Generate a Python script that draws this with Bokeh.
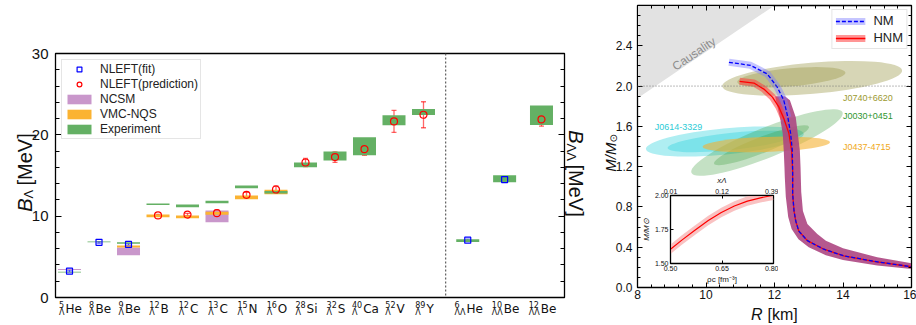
import math
from bokeh.plotting import figure
from bokeh.models import (Range1d, LinearAxis, SingleIntervalTicker, FixedTicker,
                          PrintfTickFormatter, CustomJSTickFormatter, ColumnDataSource, Whisker,
                          TeeHead, Span, Label, LabelSet, Legend, LegendItem)
from bokeh.core.properties import value
from bokeh.embed import file_html
from bokeh.resources import INLINE

# ------------------------------------------------------------------ left panel data
nuclei = ["5He", "8Be", "9Be", "12B", "12C", "13C", "15N", "16O", "28Si", "32S", "40Ca", "52V", "89Y",
          "LL6He", "LL10Be", "LL12Be"]
nuc_mass = ["5", "8", "9", "12", "12", "13", "15", "16", "28", "32", "40", "52", "89", "6", "10", "12"]
nuc_elem = ["He", "Be", "Be", "B", "C", "C", "N", "O", "Si", "S", "Ca", "V", "Y", "He", "Be", "Be"]
nuc_lam = ["Λ"] * 13 + ["ΛΛ"] * 3

exp_val = [3.12, 6.84, 6.70, 11.46, 11.27, 11.75, 13.60, 12.95, 16.30, 17.40, 18.60, 21.80, 22.80,
           7.00, 14.60, 22.40]
exp_err = [0.06, 0.06, 0.08, 0.10, 0.17, 0.15, 0.16, 0.15, 0.30, 0.55, 1.10, 0.62, 0.37,
           0.17, 0.43, 1.20]

ncsm_nuc = ["5He", "9Be", "13C"]
ncsm_val = [3.44, 5.68, 9.98]
ncsm_err = [0.06, 0.47, 0.72]

vmc_nuc = ["9Be", "12B", "12C", "13C", "15N", "16O"]
vmc_val = [6.27, 10.05, 9.92, 10.35, 12.32, 12.97]
vmc_err = [0.12, 0.17, 0.17, 0.18, 0.23, 0.27]

fit_nuc = ["5He", "8Be", "9Be", "LL6He", "LL10Be"]
fit_val = [3.24, 6.78, 6.52, 7.05, 14.50]
fit_err = [0.12, 0.10, 0.10, 0.12, 0.15]

pred_nuc = ["12B", "12C", "13C", "15N", "16O", "28Si", "32S", "40Ca", "52V", "89Y", "LL12Be"]
pred_val = [10.09, 10.20, 10.37, 12.63, 13.28, 16.60, 17.26, 18.24, 21.65, 22.47, 21.90]
pred_err = [0.12, 0.15, 0.40, 0.30, 0.45, 0.50, 0.65, 0.75, 1.35, 1.60, 0.83]

# ------------------------------------------------------------------ right panel data
nm_R = [10.67, 11.30, 11.79, 12.08, 12.27, 12.39, 12.47, 12.52, 12.53, 12.53, 12.57, 12.62, 12.71,
        12.96, 13.44, 14.02, 14.90, 16.00]
nm_M = [2.236, 2.206, 2.120, 1.990, 1.860, 1.690, 1.530, 1.360, 1.160, 0.930, 0.760, 0.660, 0.560,
        0.465, 0.380, 0.315, 0.260, 0.206]
hnm_R = [10.98, 11.40, 11.69, 11.94, 12.13, 12.27, 12.42, 12.50, 12.53, 12.53, 12.57, 12.62, 12.71,
         12.96, 13.44, 14.02, 14.90, 16.00]
hnm_M = [2.047, 2.030, 1.970, 1.890, 1.790, 1.680, 1.530, 1.360, 1.160, 0.930, 0.760, 0.660, 0.560,
         0.465, 0.380, 0.315, 0.260, 0.206]
band_top_points = 6

# overlap band (outer edge from top to tail, then inner edge back)
band_out_R = [12.30, 12.45, 12.62, 12.68, 12.74, 12.76, 12.78, 12.83, 12.96, 13.25, 13.50, 14.00, 15.00, 16.00]
band_out_M = [1.90, 1.86, 1.69, 1.53, 1.36, 1.20, 0.95, 0.76, 0.63, 0.53, 0.465, 0.39, 0.30, 0.24]
band_in_R = [16.00, 15.00, 14.00, 13.50, 13.00, 12.70, 12.50, 12.40, 12.33, 12.30, 12.29, 12.27, 12.24, 12.16, 12.04, 12.02]
band_in_M = [0.183, 0.218, 0.272, 0.320, 0.400, 0.480, 0.580, 0.700, 0.900, 1.100, 1.200, 1.360, 1.530, 1.690, 1.860, 1.900]

caus_R = [8.0, 12.0, 8.0]
caus_M = [2.8, 2.8, 1.88]

# pulsar credible regions: centre R, centre M, extent along R [km], extent in M, tilt [deg]
psr_names = ["J0614-3329", "J0030+0451", "J0437-4715", "J0740+6620"]
psr_colors = ["#22d0da", "#3a9a3a", "#f5b031", "#9c9848"]
psr_text_colors = ["#2ccbd6", "#2f962f", "#f0a820", "#9c9a30"]
psr_alpha = [0.36, 0.30, 0.60, 0.40]
outer_R = [10.55, 11.78, 11.76, 13.10]
outer_M = [1.450, 1.440, 1.420, 2.077]
outer_w = [4.63, 4.75, 3.72, 5.27]
outer_h = [0.26, 0.30, 0.15, 0.31]
outer_a = [5.5, 21.8, 2.0, 5.0]
inner_R = [10.72, 11.62, 11.76, 12.49]
inner_M = [1.450, 1.413, 1.420, 2.087]
inner_w = [3.70, 2.97, 0.0, 3.17]
inner_h = [0.17, 0.16, 0.0, 0.18]
inner_a = [6.0, 21.4, 0.0, 5.0]
psr_lab_R = [8.50, 14.00, 14.00, 14.00]
psr_lab_M = [1.595, 1.700, 1.395, 1.880]

inset_rho = [0.50, 0.533, 0.571, 0.61, 0.648, 0.686, 0.724, 0.762, 0.80]
inset_M = [1.605, 1.672, 1.744, 1.816, 1.875, 1.923, 1.959, 1.983, 2.002]
inset_band = 0.035
inset_xticks = [0.50, 0.65, 0.80]
inset_xlam = ["0.01", "0.12", "0.39"]
inset_yticks = [1.50, 1.75, 2.00]

GREEN = "#64b064"
ORANGE = "#fbb332"
PURPLE = "#c997cb"
SANS = "Liberation Sans"
INK = "#111111"


def place(fig, left, top):
    fig.styles = {"position": "absolute", "left": f"{left}px", "top": f"{top}px"}


def style_inward(ax, font_size, major=6, minor=4):
    ax.major_tick_in = major
    ax.major_tick_out = 0
    ax.minor_tick_in = minor
    ax.minor_tick_out = 0
    ax.axis_line_color = "black"
    ax.major_tick_line_color = "black"
    ax.minor_tick_line_color = "black"
    ax.major_label_text_font = SANS
    ax.major_label_text_font_size = font_size
    ax.major_label_text_color = INK


def bare_axis(ticker, major=6, minor=4):
    ax = LinearAxis(ticker=ticker, formatter=CustomJSTickFormatter(code="return ''"))
    style_inward(ax, "1px", major, minor)
    ax.major_label_standoff = 0
    return ax


def overlay(W, H, L, R, T, B, xr, yr):
    """transparent text layer covering a whole panel, sharing the panel's data scale"""
    sx = (xr.end - xr.start) / (W - L - R)
    sy = (yr.end - yr.start) / (H - T - B)
    ov = figure(width=W, height=H, title=None,
                x_range=Range1d(xr.start - L * sx, xr.end + R * sx),
                y_range=Range1d(yr.start - B * sy, yr.end + T * sy),
                x_axis_location=None, y_axis_location=None, min_border=0,
                output_backend="svg", toolbar_location=None)
    ov.grid.visible = False
    ov.outline_line_color = None
    ov.background_fill_alpha = 0
    ov.border_fill_alpha = 0
    return ov


# ================================================================== left figure
W1, H1, L1, R1, T1, B1 = 600, 325, 55, 36, 53, 28
n_single = 13
pos = {}
for i, k in enumerate(nuclei):
    pos[k] = i if i < n_single else n_single + 0.5 + 1.25 * (i - n_single)

xr1 = Range1d(-0.475, 16.78)
yr1 = Range1d(0, 30)
p1 = figure(width=W1, height=H1, x_range=xr1, y_range=yr1, title=None,
            output_backend="svg", toolbar_location=None,
            min_border_left=L1, min_border_right=R1, min_border_top=T1, min_border_bottom=B1)
place(p1, 0, 0)
p1.grid.visible = False
p1.xaxis.visible = False
p1.outline_line_color = "black"
p1.outline_line_width = 1.3

yax = p1.yaxis[0]
yax.ticker = SingleIntervalTicker(interval=10, num_minor_ticks=5)
style_inward(yax, "15px")
yax.major_label_standoff = 7
p1.add_layout(bare_axis(SingleIntervalTicker(interval=10, num_minor_ticks=5)), "right")


def box_src(keys, vals, errs, half=0.39):
    xs = [pos[k] for k in keys]
    return ColumnDataSource(dict(left=[x - half for x in xs], right=[x + half for x in xs],
                                 bottom=[v - e for v, e in zip(vals, errs)],
                                 top=[v + e for v, e in zip(vals, errs)]))


r_ncsm = p1.quad(left="left", right="right", bottom="bottom", top="top",
                 source=box_src(ncsm_nuc, ncsm_val, ncsm_err), fill_color=PURPLE, line_color=None)
r_vmc = p1.quad(left="left", right="right", bottom="bottom", top="top",
                source=box_src(vmc_nuc, vmc_val, vmc_err), fill_color=ORANGE, line_color=None)
r_exp = p1.quad(left="left", right="right", bottom="bottom", top="top",
                source=box_src(nuclei, exp_val, exp_err), fill_color=GREEN, line_color=None)


def point_src(keys, vals, errs):
    return ColumnDataSource(dict(x=[pos[k] for k in keys], y=vals,
                                 lo=[v - e for v, e in zip(vals, errs)],
                                 hi=[v + e for v, e in zip(vals, errs)]))


fit_src = point_src(fit_nuc, fit_val, fit_err)
pred_src = point_src(pred_nuc, pred_val, pred_err)
for src, col in ((fit_src, "blue"), (pred_src, "red")):
    p1.add_layout(Whisker(base="x", lower="lo", upper="hi", source=src, line_color=col,
                          line_alpha=0.6, line_width=1.3,
                          upper_head=TeeHead(size=5, line_color=col, line_alpha=0.6, line_width=1.3),
                          lower_head=TeeHead(size=5, line_color=col, line_alpha=0.6, line_width=1.3)))
r_fit = p1.scatter("x", "y", source=fit_src, marker="square", size=6, line_color="blue",
                   fill_alpha=0, line_width=1.2)
r_pred = p1.scatter("x", "y", source=pred_src, marker="circle", size=7, line_color="red",
                    fill_alpha=0, line_width=1.2)

p1.add_layout(Span(location=(n_single - 1 + n_single + 0.5) / 2, dimension="height",
                   line_color="#666666", line_dash="2 2", line_width=1.3))

leg1 = Legend(items=[LegendItem(label="NLEFT(fit)", renderers=[r_fit]),
                     LegendItem(label="NLEFT(prediction)", renderers=[r_pred]),
                     LegendItem(label="NCSM", renderers=[r_ncsm]),
                     LegendItem(label="VMC-NQS", renderers=[r_vmc]),
                     LegendItem(label="Experiment", renderers=[r_exp])],
              location="top_left", margin=6, padding=2, spacing=1, glyph_width=30, glyph_height=12,
              label_height=14, label_standoff=6, label_text_font=SANS, label_text_font_size="12px",
              label_text_color="#222222", border_line_color="#cccccc", border_line_width=1,
              background_fill_alpha=0.9)
p1.add_layout(leg1)

# ---- text layer for the left panel (category labels and axis titles)
ov1 = overlay(W1, H1, L1, R1, T1, B1, xr1, yr1)
place(ov1, 0, 0)
adv = {"H": .752, "e": .615, "B": .686, "C": .698, "N": .748, "O": .787, "S": .635, "i": .278,
       "a": .613, "V": .684, "Y": .611}
xo_pre, xo_el = [], []
for m, e, l in zip(nuc_mass, nuc_elem, nuc_lam):
    wpre = max(len(m) * 0.636 * 8, len(l) * 0.684 * 8)
    wel = sum(adv[c] for c in e) * 12
    W = wpre + 1 + wel
    xo_pre.append(-W / 2 + 1)
    xo_el.append(-W / 2 + wpre + 2)
tick_src = ColumnDataSource(dict(x=[pos[k] for k in nuclei], y=[0] * len(nuclei), mass=nuc_mass,
                                 lam=nuc_lam, elem=nuc_elem, xp=xo_pre, xe=xo_el))
ov1.add_layout(LabelSet(x="x", y="y", text="elem", source=tick_src, x_offset="xe", y_offset=-15,
                        text_font=value("DejaVu Sans"), text_font_size="12px", text_align="left",
                        text_baseline="alphabetic", text_color=INK))
ov1.add_layout(LabelSet(x="x", y="y", text="mass", source=tick_src, x_offset="xp", y_offset=-10,
                        text_font=value("DejaVu Sans"), text_font_size="8px", text_align="left",
                        text_baseline="alphabetic", text_color=INK))
ov1.add_layout(LabelSet(x="x", y="y", text="lam", source=tick_src, x_offset="xp", y_offset=-17,
                        text_font=value("DejaVu Sans"), text_font_size="8px", text_align="left",
                        text_baseline="alphabetic", text_color=INK))

ymid = 15
x0, x1 = xr1.start, xr1.end
ov1.add_layout(Label(x=x0, y=ymid, x_offset=-31, y_offset=-23, text="B", angle=math.pi / 2,
                     text_align="right", text_baseline="alphabetic", text_font=SANS,
                     text_font_size="20px", text_font_style="italic", text_color=INK))
ov1.add_layout(Label(x=x0, y=ymid, x_offset=-27, y_offset=-23, text="Λ", angle=math.pi / 2,
                     text_align="left", text_baseline="alphabetic", text_font=SANS,
                     text_font_size="13px", text_color=INK))
ov1.add_layout(Label(x=x0, y=ymid, x_offset=-31, y_offset=-10, text="[MeV]", angle=math.pi / 2,
                     text_align="left", text_baseline="alphabetic", text_font=SANS,
                     text_font_size="20px", text_color=INK))
ov1.add_layout(Label(x=x1, y=ymid, x_offset=11, y_offset=32, text="B", angle=-math.pi / 2,
                     text_align="right", text_baseline="alphabetic", text_font=SANS,
                     text_font_size="20px", text_font_style="italic", text_color=INK))
ov1.add_layout(Label(x=x1, y=ymid, x_offset=7, y_offset=32, text="ΛΛ", angle=-math.pi / 2,
                     text_align="left", text_baseline="alphabetic", text_font=SANS,
                     text_font_size="13px", text_color=INK))
ov1.add_layout(Label(x=x1, y=ymid, x_offset=11, y_offset=11, text="[MeV]", angle=-math.pi / 2,
                     text_align="left", text_baseline="alphabetic", text_font=SANS,
                     text_font_size="20px", text_color=INK))

# ================================================================== right figure
W2, H2, L2, R2, T2, B2 = 316, 325, 37, 5, 5, 38
xr2 = Range1d(8, 16)
yr2 = Range1d(0, 2.8)
p2 = figure(width=W2, height=H2, x_range=xr2, y_range=yr2, title=None,
            output_backend="svg", toolbar_location=None,
            min_border_left=L2, min_border_right=R2, min_border_top=T2, min_border_bottom=B2)
place(p2, 600, 0)
p2.grid.visible = False
p2.outline_line_color = "black"
p2.outline_line_width = 1.3

p2.xaxis.ticker = SingleIntervalTicker(interval=2, num_minor_ticks=5)
p2.yaxis.ticker = SingleIntervalTicker(interval=0.4, num_minor_ticks=4)
style_inward(p2.xaxis[0], "12px", 5, 3)
style_inward(p2.yaxis[0], "12px", 5, 3)
p2.xaxis.major_label_standoff = 2
p2.yaxis.major_label_standoff = 5
p2.yaxis.formatter = PrintfTickFormatter(format="%.1f")
p2.xaxis.formatter = PrintfTickFormatter(format="%d")
p2.add_layout(bare_axis(SingleIntervalTicker(interval=2, num_minor_ticks=5), 5, 3), "above")
p2.add_layout(bare_axis(SingleIntervalTicker(interval=0.4, num_minor_ticks=4), 5, 3), "right")

p2.patch(caus_R, caus_M, fill_color="#e2e2e2", line_color=None)
p2.add_layout(Label(x=9.65, y=2.32, text="Causality", angle=34, angle_units="deg",
                    text_align="center", text_baseline="middle", text_color="#8c8c8c",
                    text_font=SANS, text_font_size="12px"))
p2.add_layout(Span(location=2.0, dimension="width", line_color="#777777", line_dash="1 2", line_width=1))

for i in range(len(psr_names)):
    p2.ellipse(x=[outer_R[i]], y=[outer_M[i]], width=[outer_w[i]], height=[outer_h[i]],
               angle=[outer_a[i]], angle_units="deg", fill_color=psr_colors[i],
               fill_alpha=psr_alpha[i], line_color=None)
    if inner_w[i] > 0:
        p2.ellipse(x=[inner_R[i]], y=[inner_M[i]], width=[inner_w[i]], height=[inner_h[i]],
                   angle=[inner_a[i]], angle_units="deg", fill_color=psr_colors[i],
                   fill_alpha=psr_alpha[i], line_color=None)
    p2.add_layout(Label(x=psr_lab_R[i], y=psr_lab_M[i], text=psr_names[i], text_color=psr_text_colors[i],
                        text_font=SANS, text_font_size="9px", text_align="left",
                        text_baseline="alphabetic"))

p2.patch(band_out_R + band_in_R, band_out_M + band_in_M, fill_color="#ad4682", fill_alpha=0.9,
         line_color=None)
r_nm_band = p2.line(nm_R[:band_top_points], nm_M[:band_top_points], line_width=7,
                    line_color="#7f7fff", line_alpha=0.45)
r_hnm_band = p2.line(hnm_R[:band_top_points], hnm_M[:band_top_points], line_width=7,
                     line_color="#ff4040", line_alpha=0.55)
r_hnm = p2.line(hnm_R, hnm_M, line_color="red", line_width=1.3)
r_nm = p2.line(nm_R, nm_M, line_color="blue", line_width=1.3, line_dash="4 2")

leg2 = Legend(items=[LegendItem(label="NM", renderers=[r_nm_band, r_nm]),
                     LegendItem(label="HNM", renderers=[r_hnm_band, r_hnm])],
              location="top_right", margin=4, padding=3, spacing=2, glyph_width=30, glyph_height=12,
              label_height=14, label_standoff=8, label_text_font=SANS, label_text_font_size="13px",
              label_text_color="#222222", border_line_color="#cccccc", border_line_width=1,
              background_fill_alpha=0.9)
p2.add_layout(leg2)

# ---- text layer for the right panel (axis titles)
ov2 = overlay(W2, H2, L2, R2, T2, B2, xr2, yr2)
place(ov2, 600, 0)
ov2.add_layout(Label(x=12, y=0, x_offset=-12, y_offset=-27, text="R", text_align="right",
                     text_baseline="alphabetic", text_font=SANS, text_font_size="16px",
                     text_font_style="italic", text_color=INK))
ov2.add_layout(Label(x=12, y=0, x_offset=-7, y_offset=-27, text="[km]", text_align="left",
                     text_baseline="alphabetic", text_font=SANS, text_font_size="16px",
                     text_color=INK))
ov2.add_layout(Label(x=8, y=1.4, x_offset=-27, y_offset=4, text="M/M", angle=math.pi / 2,
                     text_align="right", text_baseline="alphabetic", text_font=SANS,
                     text_font_size="15px", text_font_style="italic", text_color=INK))
ov2.add_layout(Label(x=8, y=1.4, x_offset=-24, y_offset=4, text="⊙", angle=math.pi / 2,
                     text_align="left", text_baseline="alphabetic", text_font="DejaVu Sans",
                     text_font_size="10px", text_color=INK))

# ================================================================== inset figure
p3 = figure(width=140, height=114, x_range=Range1d(0.5, 0.8), y_range=Range1d(1.5, 2.0), title=None,
            output_backend="svg", toolbar_location=None,
            min_border_left=30, min_border_right=5, min_border_top=22, min_border_bottom=22)
place(p3, 638, 172)
p3.grid.visible = False
p3.border_fill_alpha = 0
p3.background_fill_color = "white"
p3.outline_line_color = "black"
p3.outline_line_width = 1.3
p3.varea(x=inset_rho, y1=[m - inset_band for m in inset_M], y2=[m + inset_band for m in inset_M],
         fill_color="#f7b3b3", fill_alpha=0.8)
p3.line(inset_rho, inset_M, line_color="red", line_width=1.2)
bx = p3.xaxis[0]
ly = p3.yaxis[0]
bx.ticker = FixedTicker(ticks=inset_xticks)
ly.ticker = FixedTicker(ticks=inset_yticks)
bx.formatter = PrintfTickFormatter(format="%.2f")
ly.formatter = PrintfTickFormatter(format="%.2f")
tax = LinearAxis(ticker=FixedTicker(ticks=inset_xticks),
                 major_label_overrides={t: s for t, s in zip(inset_xticks, inset_xlam)})
p3.add_layout(tax, "above")
for ax in (bx, ly, tax):
    style_inward(ax, "7px", 3, 0)
    ax.major_label_standoff = 2
    ax.axis_label_standoff = 1
    ax.axis_label_text_font = SANS
    ax.axis_label_text_font_size = "8px"
    ax.axis_label_text_font_style = "normal"
    ax.axis_label_text_color = "#222222"
bx.axis_label = "ρc [fm⁻³]"
ly.axis_label = "M/M⊙"
ly.axis_label_text_font_style = "italic"
tax.axis_label = "xΛ"
tax.axis_label_text_font_style = "italic"

open("out.html", "w").write(file_html([p1, ov1, p2, ov2, p3], INLINE))
